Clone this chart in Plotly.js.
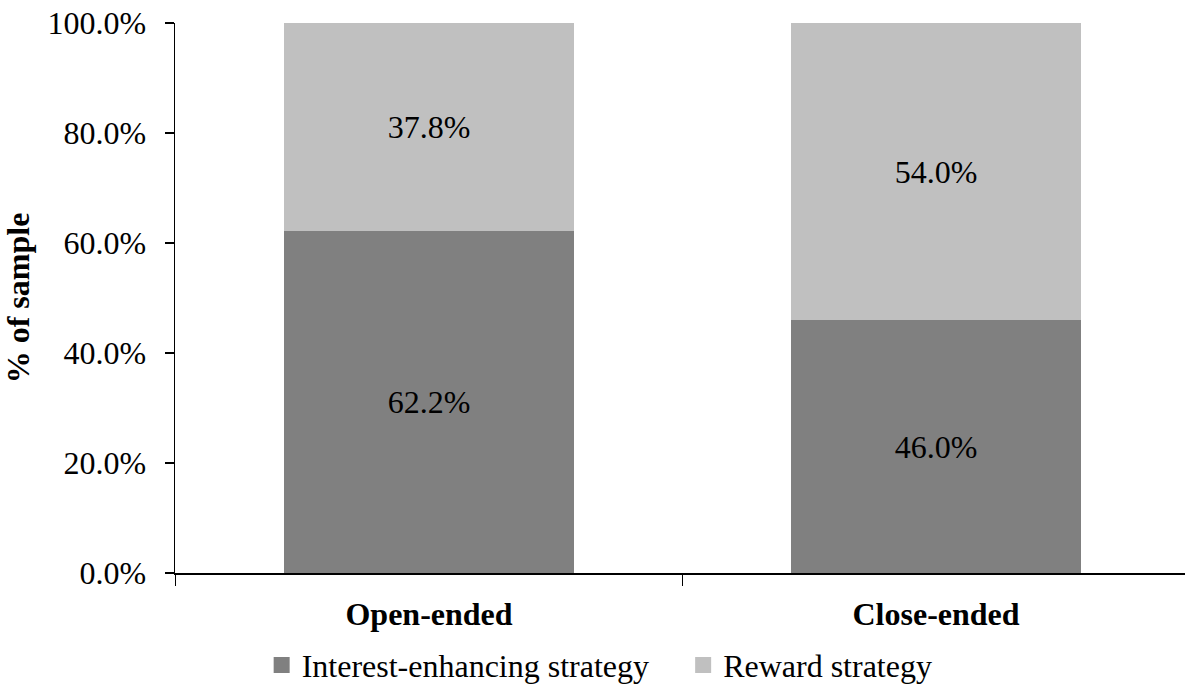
<!DOCTYPE html>
<html>
<head>
<meta charset="utf-8">
<script src="https://cdn.plot.ly/plotly-3.0.1.min.js"></script>
<style>
  html, body { margin: 0; padding: 0; background: #ffffff; }
  #chart { width: 1185px; height: 690px; }
</style>
</head>
<body>
<div id="chart"></div>
<script>
// Question format groups
const categories = ["Open-ended", "Close-ended"];

// Share of sample (%) per strategy
const interestEnhancing = [62.2, 46.0];
const rewardStrategy = [37.8, 54.0];

const seriesNames = ["Interest-enhancing strategy", "Reward strategy"];
const seriesColors = ["#808080", "#c0c0c0"];

// Y-axis ticks
const yTickValues = [0, 20, 40, 60, 80, 100];
const yTickLabels = ["0.0%", "20.0%", "40.0%", "60.0%", "80.0%", "100.0%"];

const FONT = "'Liberation Serif', 'Times New Roman', serif";
const FS = 32;

function barTrace(values, name, color) {
  return {
    type: "bar",
    x: categories,
    y: values,
    name: name,
    width: 0.572,
    showlegend: false,
    marker: { color: color, line: { width: 0 } },
    texttemplate: "%{y:.1f}%",
    textposition: "inside",
    insidetextanchor: "middle",
    textangle: 0,
    constraintext: "none",
    textfont: { family: FONT, size: FS, color: "#000000" },
    hoverinfo: "skip"
  };
}

// Legend-only entries with square swatches
function legendEntry(name, color) {
  return {
    type: "scatter",
    mode: "markers",
    x: [null],
    y: [null],
    name: name,
    showlegend: true,
    marker: { symbol: "square", size: 16, color: color, line: { width: 0 } },
    hoverinfo: "skip"
  };
}

const data = [
  barTrace(interestEnhancing, seriesNames[0], seriesColors[0]),
  barTrace(rewardStrategy, seriesNames[1], seriesColors[1]),
  legendEntry(seriesNames[0], seriesColors[0]),
  legendEntry(seriesNames[1], seriesColors[1])
];

const layout = {
  width: 1185,
  height: 690,
  margin: { l: 175, r: 0, t: 23, b: 117 },
  paper_bgcolor: "#ffffff",
  plot_bgcolor: "#ffffff",
  barmode: "stack",
  font: { family: FONT, size: FS, color: "#000000" },
  showlegend: true,
  legend: {
    orientation: "h",
    xref: "container",
    yref: "container",
    x: 0.5765,
    xanchor: "center",
    y: 0.036,
    yanchor: "middle",
    entrywidth: 376.5,
    font: { family: FONT, size: FS, color: "#000000" },
    itemclick: false,
    itemdoubleclick: false,
    traceorder: "normal"
  },
  xaxis: {
    type: "category",
    range: [-0.501, 1.491],
    tickson: "boundaries",
    ticks: "outside",
    ticklen: 11,
    tickwidth: 1.5,
    tickcolor: "#000000",
    showline: true,
    linecolor: "#000000",
    linewidth: 1.5,
    showgrid: false,
    zeroline: false,
    tickfont: { family: FONT, size: FS, color: "#000000", weight: "bold" },
    ticklabelstandoff: 12,
    fixedrange: true
  },
  yaxis: {
    range: [0, 100],
    tickvals: yTickValues,
    ticktext: yTickLabels,
    ticks: "outside",
    ticklen: 9,
    tickwidth: 1.5,
    tickcolor: "#000000",
    showline: true,
    linecolor: "#000000",
    linewidth: 1.5,
    showgrid: false,
    zeroline: false,
    tickfont: { family: FONT, size: FS, color: "#000000" },
    ticklabelstandoff: 12,
    title: {
      text: "% of sample",
      font: { family: FONT, size: FS, color: "#000000", weight: "bold" },
      standoff: 8
    },
    fixedrange: true
  }
};

Plotly.newPlot("chart", data, layout, { displayModeBar: false, staticPlot: true });
</script>
</body>
</html>
